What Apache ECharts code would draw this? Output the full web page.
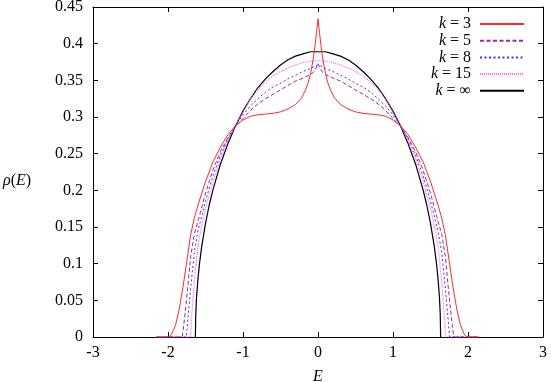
<!DOCTYPE html>
<html>
<head>
<meta charset="utf-8">
<script src="https://cdn.jsdelivr.net/npm/echarts@6/dist/echarts.min.js"></script>
<style>html,body{margin:0;padding:0;background:#fff}#c{width:551px;height:382px}</style>
</head>
<body>
<div id="c"></div>
<script>
// ---- data ----
const xTicks = [-3, -2, -1, 0, 1, 2, 3];
const yTicks = [0, 0.05, 0.1, 0.15, 0.2, 0.25, 0.3, 0.35, 0.4, 0.45];
const seriesNames = ['3', '5', '8', '15', '∞'];

const k3E = [-2.15,-1.98,-1.95,-1.9,-1.85,-1.8,-1.75,-1.7,-1.65,-1.6,-1.5,-1.4,-1.3,-1.2,-1.1,-1.0,-0.9,-0.8,-0.7,-0.6,-0.5,-0.4,-0.3,-0.22,-0.17,-0.13,-0.1,-0.08,-0.06,-0.04,-0.02,
  0,0.02,0.04,0.06,0.08,0.1,0.13,0.17,0.22,0.3,0.4,0.5,0.6,0.7,0.8,0.9,1.0,1.1,1.2,1.3,1.4,1.5,1.6,1.65,1.7,1.75,1.8,1.85,1.9,1.95,1.98,2.15];
const k3Rho = [0,0,0.004,0.016,0.038,0.068,0.103,0.138,0.162,0.18,0.212,0.239,0.259,0.276,0.288,0.296,0.301,0.303,0.304,0.305,0.307,0.311,0.317,0.326,0.336,0.347,0.359,0.37,0.382,0.397,0.415,
  0.434,0.415,0.397,0.382,0.37,0.359,0.347,0.336,0.326,0.317,0.311,0.307,0.305,0.304,0.303,0.301,0.296,0.288,0.276,0.259,0.239,0.212,0.18,0.162,0.138,0.103,0.068,0.038,0.016,0.004,0,0];

const k5E = [-2.15,-1.81,-1.78,-1.74,-1.7,-1.65,-1.6,-1.5,-1.4,-1.3,-1.2,-1.1,-1.0,-0.9,-0.8,-0.7,-0.6,-0.5,-0.4,-0.3,-0.2,-0.1,-0.06,-0.03,
  0,0.03,0.06,0.1,0.2,0.3,0.4,0.5,0.6,0.7,0.8,0.9,1.0,1.1,1.2,1.3,1.4,1.5,1.6,1.65,1.7,1.74,1.78,1.81,2.15];
const k5Rho = [0,0,0.025,0.064,0.108,0.14,0.158,0.196,0.228,0.253,0.272,0.287,0.298,0.309,0.318,0.325,0.331,0.337,0.343,0.349,0.353,0.358,0.361,0.366,
  0.373,0.366,0.361,0.358,0.353,0.349,0.343,0.337,0.331,0.325,0.318,0.309,0.298,0.287,0.272,0.253,0.228,0.196,0.158,0.14,0.108,0.064,0.025,0,0];

const k8E = [-2.15,-1.755,-1.73,-1.7,-1.65,-1.6,-1.5,-1.4,-1.3,-1.2,-1.1,-1.0,-0.9,-0.8,-0.7,-0.6,-0.5,-0.4,-0.3,-0.2,-0.1,-0.05,
  0,0.05,0.1,0.2,0.3,0.4,0.5,0.6,0.7,0.8,0.9,1.0,1.1,1.2,1.3,1.4,1.5,1.6,1.65,1.7,1.73,1.755,2.15];
const k8Rho = [0,0,0.03,0.064,0.115,0.145,0.185,0.22,0.248,0.27,0.288,0.303,0.315,0.325,0.334,0.341,0.346,0.352,0.357,0.362,0.366,0.369,
  0.371,0.369,0.366,0.362,0.357,0.352,0.346,0.341,0.334,0.325,0.315,0.303,0.288,0.27,0.248,0.22,0.185,0.145,0.115,0.064,0.03,0,0];

const k15E = [-2.15,-1.7,-1.68,-1.65,-1.6,-1.55,-1.5,-1.4,-1.3,-1.2,-1.1,-1.0,-0.9,-0.8,-0.7,-0.6,-0.5,-0.4,-0.3,-0.2,-0.1,
  0,0.1,0.2,0.3,0.4,0.5,0.6,0.7,0.8,0.9,1.0,1.1,1.2,1.3,1.4,1.5,1.55,1.6,1.65,1.68,1.7,2.15];
const k15Rho = [0,0,0.035,0.075,0.125,0.152,0.175,0.212,0.243,0.268,0.289,0.306,0.325,0.338,0.348,0.356,0.362,0.367,0.371,0.374,0.376,
  0.377,0.376,0.374,0.371,0.367,0.362,0.356,0.348,0.338,0.325,0.306,0.289,0.268,0.243,0.212,0.175,0.152,0.125,0.075,0.035,0,0];

const kInfE = [-1.635,-1.63,-1.62,-1.6,-1.58,-1.55,-1.5,-1.45,-1.4,-1.3,-1.2,-1.1,-1.0,-0.9,-0.8,-0.7,-0.6,-0.5,-0.4,-0.3,-0.2,-0.1,
  0,0.1,0.2,0.3,0.4,0.5,0.6,0.7,0.8,0.9,1.0,1.1,1.2,1.3,1.4,1.45,1.5,1.55,1.58,1.6,1.62,1.63,1.635];
const kInfRho = [0,0.030,0.053,0.080,0.100,0.124,0.155,0.180,0.201,0.236,0.264,0.288,0.308,0.325,0.340,0.352,0.362,0.371,0.378,0.383,0.386,0.389,
  0.389,0.389,0.386,0.383,0.378,0.371,0.362,0.352,0.340,0.325,0.308,0.288,0.264,0.236,0.201,0.180,0.155,0.124,0.100,0.080,0.053,0.030,0];

// ---- build chart ----
const FONT = 'Liberation Serif';
const FS = 16;
function zip(a, b) { return a.map((v, i) => [v, b[i]]); }
const styles = [
  { color: '#ff2a2a', type: 'solid', width: 1 },
  { color: '#9b2a9b', type: [4, 2.5], width: 1 },
  { color: '#3333ff', type: [2, 2.5], width: 1 },
  { color: '#ff66ff', type: [1, 1], width: 1.2 },
  { color: '#000000', type: 'solid', width: 1.2 }
];
const datasets = [zip(k3E, k3Rho), zip(k5E, k5Rho), zip(k8E, k8Rho), zip(k15E, k15Rho), zip(kInfE, kInfRho)];
const names = seriesNames.map(s => 'k = ' + s);

const series = names.map((n, i) => ({
  name: n, type: 'line', data: datasets[i], showSymbol: false, symbol: 'none',
  lineStyle: styles[i], itemStyle: { color: styles[i].color }, animation: false, z: 10 - i, clip: true
}));

const axisCommon = {
  axisLine: { show: true, onZero: false, lineStyle: { color: '#000', width: 1 } },
  axisTick: { show: true, inside: true, length: 5, lineStyle: { color: '#000' } },
  splitLine: { show: false }
};
const labelStyle = { fontFamily: FONT, fontSize: FS, color: '#000' };

const chart = echarts.init(document.getElementById('c'), null, { renderer: 'canvas' });
chart.setOption({
  animation: false,
  backgroundColor: '#fff',
  grid: { left: 93, right: 8, top: 7, bottom: 45, containLabel: false, outerBoundsMode: 'none' },
  legend: {
    data: names, orient: 'vertical', right: 21, top: 11, align: 'right',
    itemWidth: 44, itemHeight: 10, itemGap: 0.7,
    itemStyle: { opacity: 0 },
    formatter: n => '{i|k} = ' + n.slice(4),
    textStyle: { fontFamily: FONT, fontSize: FS, color: '#000', lineHeight: 15, padding: [0, 4, 0, 0],
      rich: { i: { fontFamily: FONT, fontSize: FS, fontStyle: 'italic', color: '#000' } } }
  },
  xAxis: [
    Object.assign({ type: 'value', min: xTicks[0], max: xTicks[xTicks.length - 1], interval: 1, position: 'bottom',
      axisLabel: Object.assign({ margin: 8 }, labelStyle),
      name: 'E', nameLocation: 'middle', nameGap: 32,
      nameTextStyle: { fontFamily: FONT, fontSize: FS, fontStyle: 'italic', color: '#000' } }, axisCommon),
    Object.assign({ type: 'value', min: xTicks[0], max: xTicks[xTicks.length - 1], interval: 1, position: 'top',
      axisLabel: { show: false } }, axisCommon)
  ],
  yAxis: [
    Object.assign({ type: 'value', min: yTicks[0], max: yTicks[yTicks.length - 1], interval: 0.05, position: 'left',
      axisLabel: Object.assign({ margin: 10, formatter: v => String(+v.toFixed(2)) }, labelStyle) }, axisCommon),
    Object.assign({ type: 'value', min: yTicks[0], max: yTicks[yTicks.length - 1], interval: 0.05, position: 'right',
      axisLabel: { show: false } }, axisCommon)
  ],
  graphic: [{
    type: 'text', left: 3, top: 173,
    style: { text: '{i|ρ}({i|E})', fontFamily: FONT, fontSize: FS, fill: '#000',
      rich: { i: { fontFamily: FONT, fontSize: FS, fontStyle: 'italic', fill: '#000' } } }
  }],
  series: series
});
</script>
</body>
</html>
